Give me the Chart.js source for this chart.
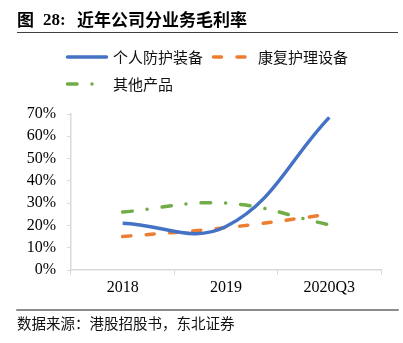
<!DOCTYPE html>
<html>
<head>
<meta charset="utf-8">
<script src="https://cdn.jsdelivr.net/npm/chart.js@4"></script>
<style>
  html, body { margin: 0; padding: 0; background: #fff; }
  canvas { display: block; }
</style>
</head>
<body>
<canvas id="myChart" width="403" height="343"></canvas>
<script>
var years = ['2018', '2019', '2020Q3'];
var ppe = [21, 19.5, 68.5];       // 个人防护装备
var rehab = [15, 19, 25];         // 康复护理设备
var others = [26, 30, 20.3];      // 其他产品
var yTicks = [0, 10, 20, 30, 40, 50, 60, 70];

var cjk = '"Noto Sans CJK SC", sans-serif';
var serif = '"Liberation Serif", "Times New Roman", serif';

// title, legend, footer drawn around the plot
var framePlugin = {
    id: 'frame',
    afterDraw: function(chart) {
        var ctx = chart.ctx;
        ctx.save();
        ctx.fillStyle = '#000';
        ctx.textBaseline = 'middle';
        ctx.textAlign = 'left';

        ctx.font = 'bold 17px ' + cjk;
        ctx.fillText('图', 17, 20);
        ctx.font = 'bold 17px ' + serif;
        ctx.fillText('28:', 43, 21);
        ctx.font = 'bold 17px ' + cjk;
        ctx.fillText('近年公司分业务毛利率', 77, 20);

        ctx.strokeStyle = '#404040';
        ctx.lineWidth = 1.2;
        ctx.beginPath();
        ctx.moveTo(17, 32.5);
        ctx.lineTo(398, 32.5);
        ctx.stroke();

        // legend
        var items = [
            { x: 66, y: 57, textX: 113 },
            { x: 212, y: 57, textX: 258 },
            { x: 66, y: 84, textX: 113 }
        ];
        chart.data.datasets.forEach(function(ds, i) {
            var it = items[i];
            ctx.strokeStyle = ds.borderColor;
            ctx.lineWidth = 3.5;
            ctx.lineCap = 'round';
            ctx.setLineDash(ds.borderDash || []);
            ctx.beginPath();
            ctx.moveTo(it.x + 1.5, it.y);
            ctx.lineTo(it.x + 40.5, it.y);
            ctx.stroke();
            ctx.setLineDash([]);
            ctx.font = '15px ' + cjk;
            ctx.fillStyle = '#111';
            ctx.fillText(ds.label, it.textX, it.y);
        });

        ctx.strokeStyle = '#8c8c8c';
        ctx.lineWidth = 2;
        ctx.beginPath();
        ctx.moveTo(17, 310);
        ctx.lineTo(398, 310);
        ctx.stroke();

        ctx.font = '14.5px ' + cjk;
        ctx.fillStyle = '#111';
        ctx.fillText('数据来源：港股招股书，东北证券', 17, 323);
        ctx.restore();
    }
};

var options = {
    type: 'line',
    data: {
        labels: years,
        datasets: [{
            label: '个人防护装备',
            data: ppe,
            borderColor: '#4472C4',
            borderWidth: 3.5
        }, {
            label: '康复护理设备',
            data: rehab,
            borderColor: '#ED7D31',
            borderWidth: 3.5,
            borderDash: [8, 15.5],
            borderCapStyle: 'round'
        }, {
            label: '其他产品',
            data: others,
            borderColor: '#70AD47',
            borderWidth: 3.5,
            borderDash: [9.5, 15, 0.01, 15],
            borderCapStyle: 'round'
        }]
    },
    options: {
        responsive: false,
        animation: false,
        devicePixelRatio: 1,
        layout: {
            padding: { top: 114, right: 22, left: 0, bottom: 0 }
        },
        elements: {
            point: { radius: 0, hoverRadius: 0 },
            line: { tension: 0.4, fill: false }
        },
        plugins: {
            legend: { display: false },
            title: { display: false },
            tooltip: { enabled: false }
        },
        scales: {
            x: {
                offset: true,
                afterFit: function(scale) { scale.height = 73; },
                grid: {
                    display: true,
                    drawOnChartArea: false,
                    offset: true,
                    tickLength: 5,
                    color: '#d9d9d9'
                },
                border: { color: '#d9d9d9', width: 1.5 },
                ticks: {
                    color: '#000',
                    padding: 3,
                    font: { family: serif, size: 16 }
                }
            },
            y: {
                min: 0,
                max: 70,
                afterFit: function(scale) { scale.width = 71; },
                afterBuildTicks: function(scale) {
                    scale.ticks = yTicks.map(function(v) { return { value: v }; });
                },
                grid: {
                    display: true,
                    drawOnChartArea: false,
                    tickLength: 4,
                    color: '#d9d9d9'
                },
                border: { color: '#d9d9d9', width: 1.5 },
                ticks: {
                    color: '#000',
                    padding: 11,
                    font: { family: serif, size: 16 },
                    callback: function(v) { return v + '%'; }
                }
            }
        }
    },
    plugins: [framePlugin]
};

var ctx = document.getElementById('myChart');
var chart = new Chart(ctx, options);
</script>
</body>
</html>
